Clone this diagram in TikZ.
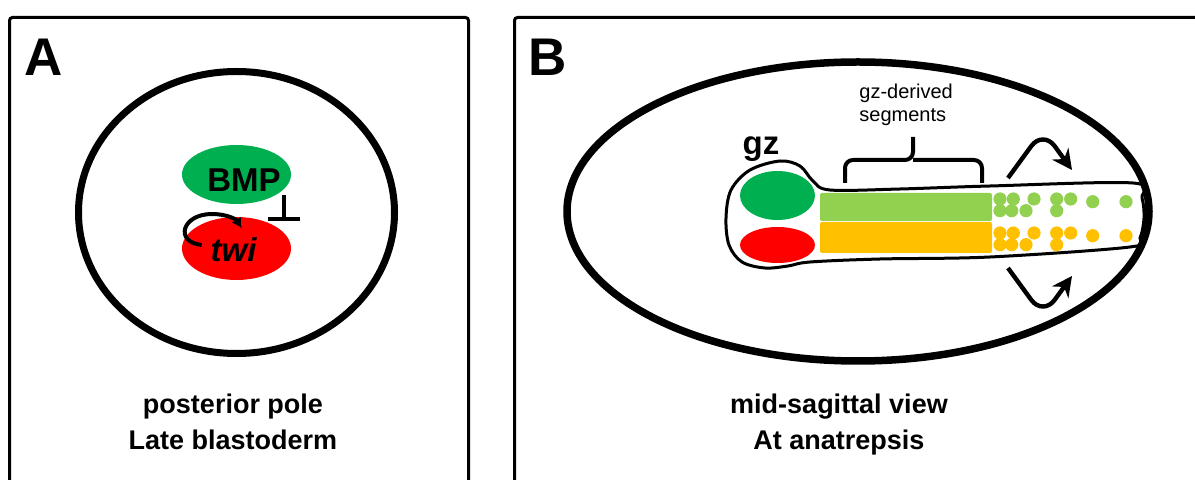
\documentclass[tikz,border=0pt]{standalone}
\usepackage{fontspec}
\setmainfont{Liberation Sans}
\usetikzlibrary{shapes.geometric,arrows.meta}
\definecolor{bmpgreen}{HTML}{00B050}
\definecolor{twired}{HTML}{FF0000}
\definecolor{seggreen}{HTML}{92D050}
\definecolor{segorange}{HTML}{FFC000}

\begin{document}
\begin{tikzpicture}[x=0.5pt,y=-0.5pt]
\tikzstyle{panel}=[line width=1.5pt,rounded corners=1.5pt];
\tikzstyle{egg}=[line width=3.5pt];
\tikzstyle{letter}=[font=\fontsize{26.5}{30}\selectfont\bfseries,inner sep=0];
\tikzstyle{caption}=[font=\fontsize{13.5}{18}\selectfont\bfseries,align=center,inner sep=0];
\tikzstyle{gene}=[font=\fontsize{16.5}{20}\selectfont\bfseries,inner sep=0];
\tikzstyle{note}=[font=\fontsize{10}{11.5}\selectfont,align=left,anchor=west,inner sep=0];
\tikzstyle{blob}=[ellipse,inner sep=0];
\tikzstyle{brace}=[line width=2pt,rounded corners=4pt];
\tikzstyle{flow}=[line width=2.2pt,rounded corners=10pt,-{Stealth[length=10pt,width=10pt]}];

\useasboundingbox (0,0) rectangle (1195,480);

\draw[panel] (9.5,17.5) rectangle (468.5,500);
\draw[panel] (514.5,17.5) rectangle (1210,500);
\node[letter] (pa) at (44,57.5) {A};
\node[letter] (pb) at (548,57.5) {B};

\draw[egg] (236.5,212.5) ellipse [x radius=79pt,y radius=70.5pt];
\node[blob,fill=bmpgreen,minimum width=54.5pt,minimum height=29.5pt] (bmp) at (236.5,174.5) {};
\node[blob,fill=twired,minimum width=54.5pt,minimum height=31.5pt] (twi) at (236.5,248.5) {};
\node[gene] (lb) at (244,180) {BMP};
\node[gene,anchor=base] (lt) at (233.5,261.7) {\itshape twi};

\coordinate (t1) at (201.7,245);
\coordinate (t2) at (241.7,228.3);
\draw[line width=2pt,-{Latex[length=5pt,width=5.5pt]}] (t1) .. controls (174,242) and (182,214) .. (212,214) .. controls (226,214) and (236,219) .. (t2);
\coordinate (b1) at (283.5,195);
\coordinate (b2) at (283.5,221.5);
\draw[line width=2pt,-{Bar[width=16pt]}] (b1) -- (b2);

\node[caption] (ca) at (233,422) {posterior pole\\Late blastoderm};

\draw[line width=1.5pt] plot[smooth cycle,tension=0.55] coordinates {(726,218) (731,190) (750,170) (780,161) (800,166) (813,181) (830,190) (900,189) (990,186) (1133,183) (1142,198) (1144,218) (1140,238) (1130,247) (990,257) (880,259) (810,262) (788,266) (765,268) (742,262) (729,245)};
\node[blob,fill=bmpgreen,minimum width=37.5pt,minimum height=24.5pt] (hg) at (777.5,195.5) {};
\node[blob,fill=twired,minimum width=37.5pt,minimum height=18pt] (hr) at (777.5,245) {};
\fill[seggreen,rounded corners=1pt] (820,193) rectangle (992,221);
\fill[segorange,rounded corners=1pt] (820,222) rectangle (992,253);
\foreach \x/\y in {1000/199,1013.3/199,1000/210.7,1011.7/210.7,1034/199,1026/210.7,1056.7/199,1070.7/199,1056.7/210.7,1092.7/201.7,1126/201.7}
{
\fill[seggreen] (\x,\y) circle (3.3pt);
\fill[segorange] (\x,{\y+34}) circle (3.3pt);
}
\draw[egg,line width=3.75pt] (858,211.5) ellipse [x radius=145.5pt,y radius=74.75pt];

\node[gene] (gz) at (761,149) {gz};
\node[note] (gd) at (859,105) {gz-derived\\segments};
\draw[brace] (845,183) |- (913,160) -- (913,137);
\draw[brace] (982,183) |- (913,160);

\coordinate (u1) at (1008,178);
\coordinate (u2) at (1072,170);
\coordinate (d1) at (1008,268);
\coordinate (d2) at (1072,276);
\draw[flow] (u1) -- (1043,130) -- (u2);
\draw[flow] (d1) -- (1043,316) -- (d2);

\node[caption] (cb) at (839,425) {mid-sagittal view\\At anatrepsis};
\end{tikzpicture}
\end{document}
